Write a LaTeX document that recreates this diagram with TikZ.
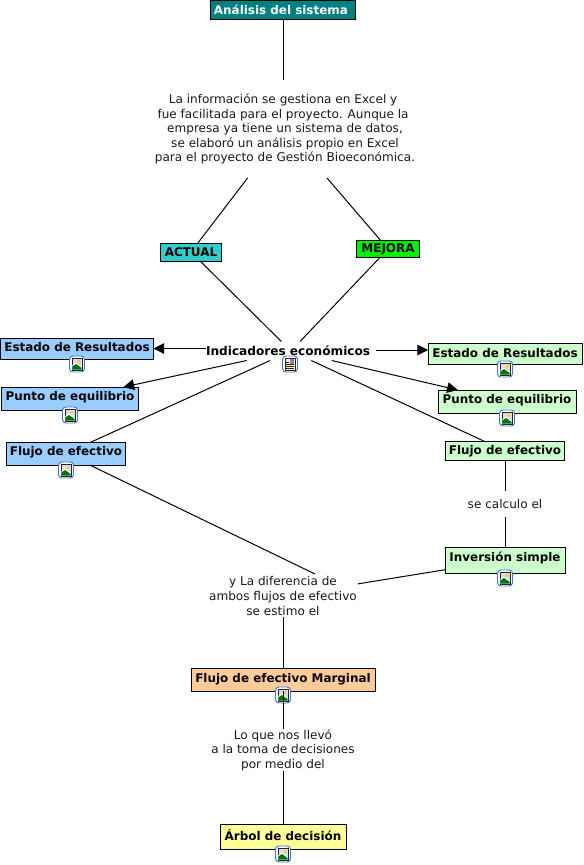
\documentclass[tikz,border=0pt]{standalone}
\usepackage{fontspec}
\setmainfont{DejaVu Sans}
\usepackage{xcolor}
\usetikzlibrary{arrows.meta}
\definecolor{tealbox}{RGB}{0,128,128}
\definecolor{actualbox}{RGB}{51,204,204}
\definecolor{mejorabox}{RGB}{0,240,0}
\definecolor{lightblue}{RGB}{153,204,255}
\definecolor{lightgreen}{RGB}{204,255,204}
\definecolor{lightorange}{RGB}{255,204,153}
\definecolor{lightyellow}{RGB}{255,255,153}
\definecolor{iconblue}{RGB}{60,120,210}
\tikzset{
  imgicon/.pic={
    \draw[iconblue, fill=white, rounded corners=2.5, line width=0.7pt] (-7.5,-8) rectangle (7.5,8);
    \draw[black!85, fill=blue!15!white, line width=0.6pt] (-5,-6) rectangle (5,6);
    \fill[yellow!75!orange] (2,-2.5) circle (1.8);
    \fill[white] (-4.6,1) -- (-1,-1.5) -- (4.6,3) -- (4.6,5.6) -- (-4.6,5.6) -- cycle;
    \fill[green!45!black] (-4.6,2.5) -- (-1,0) -- (4.6,4) -- (4.6,5.6) -- (-4.6,5.6) -- cycle;
  },
  docicon/.pic={
    \draw[iconblue, fill=white, rounded corners=2.5, line width=0.7pt] (-7.5,-8) rectangle (7.5,8);
    \draw[black!85, fill=yellow!35!white, line width=0.6pt] (-5,-6) rectangle (5,6);
    \fill[red!35!blue!55!white] (0,-5) rectangle (4.4,-0.5);
    \foreach \ly in {0.8,2.6,4.4} \draw[black!85, line width=0.6pt] (-3.6,\ly) -- (3.6,\ly);
    \draw[black!85, line width=0.6pt] (-3.6,-2) -- (-1,-2);
  }
}
\begin{document}
\begin{tikzpicture}[
  x=0.75pt, y=-0.75pt,
  font=\fontsize{9.05pt}{10.9pt}\selectfont,
  concept/.style={draw=black, line width=0.7pt, font=\fontsize{8.95pt}{10.9pt}\selectfont\bfseries, inner sep=0pt, outer sep=0pt, align=center},
  phrase/.style={align=center, inner sep=0pt, outer sep=0pt, text=black!90},
  conn/.style={line width=0.75pt},
  arr/.style={line width=0.75pt, -{Triangle[length=8pt, width=8pt]}}
]
\useasboundingbox (0,0) rectangle (583,865);

\node[concept, fill=tealbox, text=white, minimum width=108.75pt, minimum height=14.25pt] (sistema) at (283,10) {Análisis del sistema~};
\node[phrase, minimum height=73.5pt] (info) at (285,129) {La información se gestiona en Excel y~~\\fue facilitada para el proyecto. Aunque la~~\\empresa ya tiene un sistema de datos,~\\se elaboró un análisis propio en Excel~\\para el proyecto de Gestión Bioeconómica.};
\node[concept, fill=actualbox, minimum width=45.75pt, minimum height=13.5pt] (actual) at (191,252) {ACTUAL};
\node[concept, fill=mejorabox, minimum width=47.25pt, minimum height=12.75pt] (mejora) at (388,249) {MEJORA};

% centre row
\node[inner sep=0pt, outer sep=0pt, font=\fontsize{9.1pt}{10.9pt}\selectfont\bfseries, text width=127.5pt, align=left, minimum height=14.25pt] (indicadores) at (291,351) {Indicadores económicos};
\pic at (290,364) {docicon};

% left column
\node[concept, fill=lightblue, minimum width=114.75pt, minimum height=15.75pt, text depth=3pt] (estadoa) at (77,348.5) {Estado de Resultados};
\pic at (77,364) {imgicon};
\node[concept, fill=lightblue, minimum width=102.75pt, minimum height=17.25pt, text depth=4pt] (puntoa) at (70,398.5) {Punto de equilibrio};
\pic at (70,415) {imgicon};
\node[concept, fill=lightblue, minimum width=89.25pt, minimum height=17.25pt, text depth=4pt] (flujoa) at (66,453.5) {Flujo de efectivo};
\pic at (66,470) {imgicon};

% right column
\node[concept, fill=lightgreen, minimum width=115.5pt, minimum height=15.75pt, text depth=2pt] (estadob) at (505,354) {Estado de Resultados};
\pic at (505,369) {imgicon};
\node[concept, fill=lightgreen, minimum width=103.5pt, minimum height=17.25pt, text depth=4pt] (puntob) at (507,401.5) {Punto de equilibrio};
\pic at (507,418) {imgicon};
\node[concept, fill=lightgreen, minimum width=89.25pt, minimum height=14.25pt] (flujob) at (505,451) {Flujo de efectivo};
\node[phrase, minimum height=19.5pt] (calculo) at (505,504) {se calculo el};
\node[concept, fill=lightgreen, minimum width=90pt, minimum height=19.5pt, text depth=5pt] (inversion) at (505,560) {Inversión simple};
\pic at (505,578) {imgicon};

% bottom
\node[phrase, minimum width=112.5pt, minimum height=31.5pt] (diferencia) at (283,596) {y La diferencia de\\ambos flujos de efectivo\\se estimo el};
\coordinate (diftop) at (315,574);
\node[concept, fill=lightorange, minimum width=138pt, minimum height=17.25pt, text depth=3pt] (marginal) at (283,679.5) {Flujo de efectivo Marginal};
\pic at (283,695) {imgicon};
\node[phrase, minimum height=31.5pt] (medio) at (283,750) {Lo que nos llevó\\a la toma de decisiones\\por medio del};
\node[concept, fill=lightyellow, minimum width=94.5pt, minimum height=18.75pt, text depth=3pt] (arbol) at (283,836.5) {Árbol de decisión};
\pic at (283,854) {imgicon};

\draw[conn] (sistema.south) -- (sistema.south |- info.north);
\draw[conn] (info) -- (actual);
\draw[conn] (info) -- (mejora);
\draw[conn] (actual) -- (indicadores);
\draw[conn] (mejora) -- (indicadores);
\draw[arr] (indicadores.west |- estadoa.east) -- (estadoa.east);
\draw[arr] ([yshift=0.75pt]indicadores.east) -- ([yshift=0.75pt]indicadores.east -| estadob.west);
\draw[arr] (indicadores) -- (puntoa);
\draw[arr] (indicadores) -- (puntob);
\draw[conn] (indicadores) -- (flujoa);
\draw[conn] (indicadores) -- (flujob);
\draw[conn] (flujob) -- (calculo);
\draw[conn] (calculo) -- (inversion);
\draw[conn] (inversion) -- (diferencia);
\draw[conn] (flujoa) -- (diftop);
\draw[conn] (diferencia) -- (marginal);
\draw[conn] (marginal) -- (medio);
\draw[conn] (medio) -- (arbol);
\end{tikzpicture}
\end{document}
